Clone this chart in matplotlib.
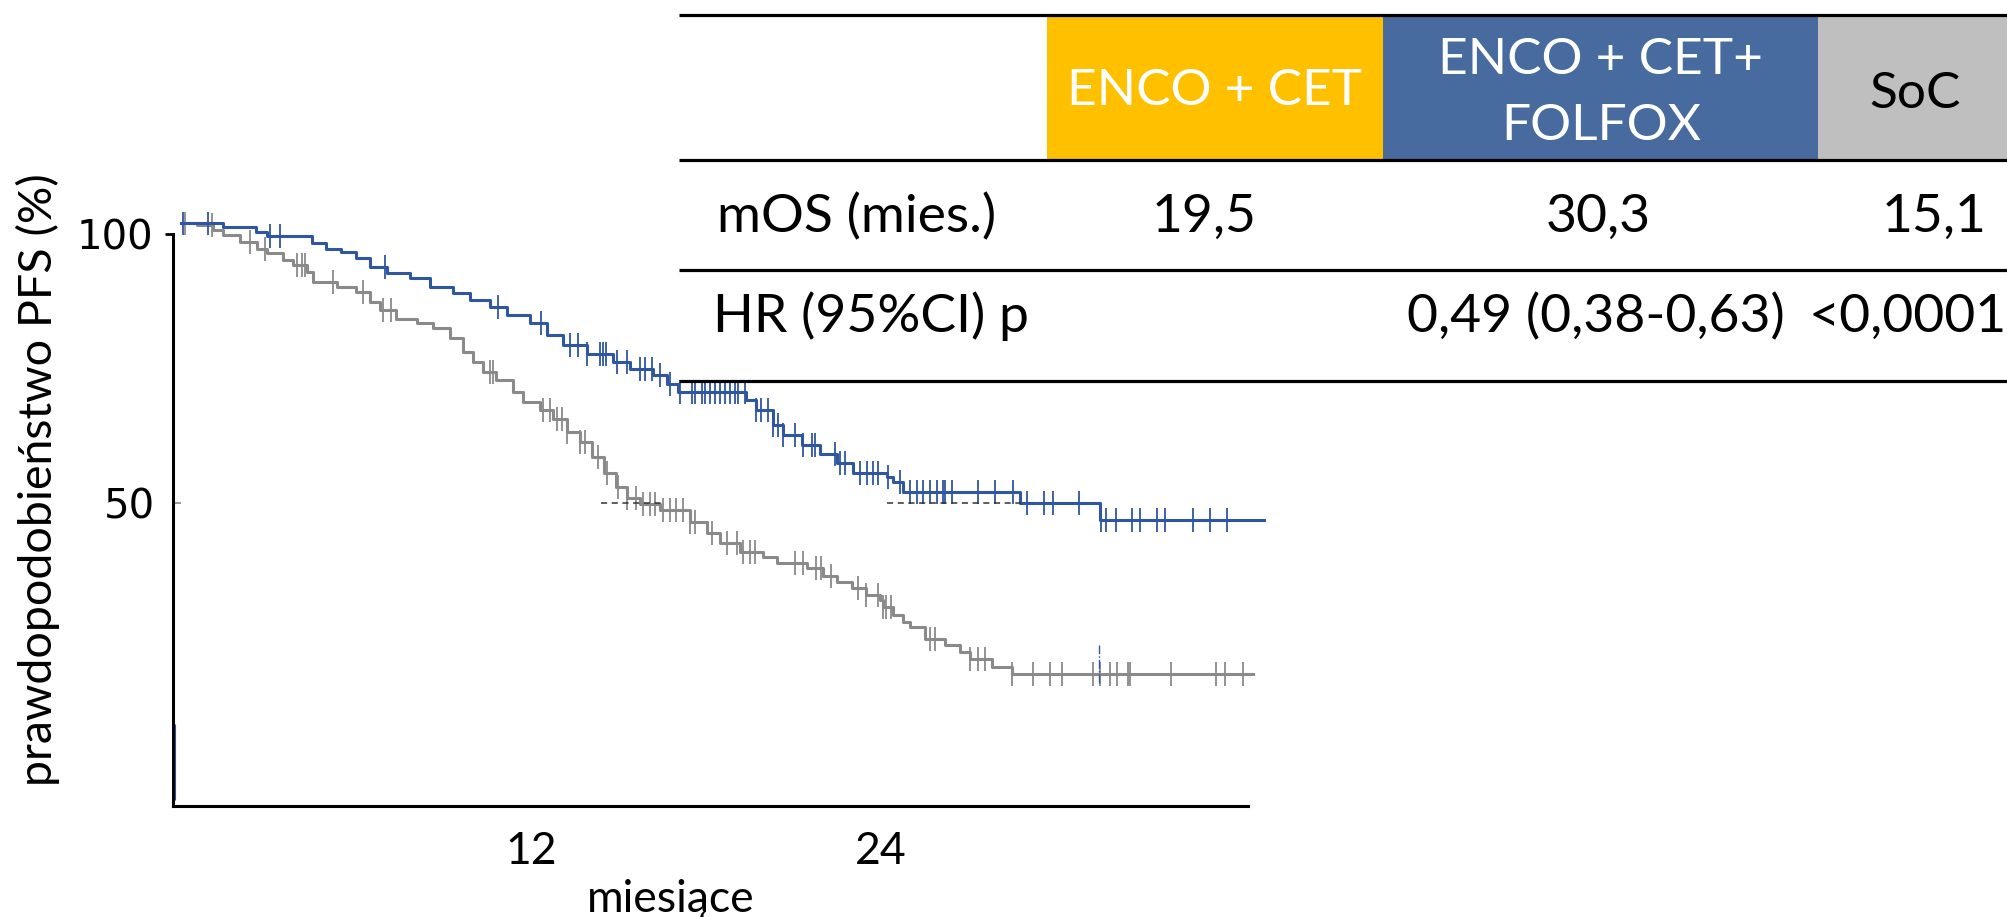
import numpy as np
import matplotlib.pyplot as plt
from matplotlib.patches import Rectangle

# Kaplan-Meier steps (months, %)
blue_t = [0, 1.44, 2.59, 2.94, 4.48, 4.99, 5.5, 6.02, 6.48, 7.05, 7.85, 8.54, 9.34,
          9.91, 10.6, 11.17, 11.97, 12.54, 13.11, 13.91, 14.83, 15.4, 16.2, 16.65,
          17.05, 19.39, 19.73, 20.3, 20.65, 21.3, 21.9, 22.5, 23.05, 24.2, 24.4,
          24.77, 28.76, 31.5]
blue_s = [102.0, 101.4, 100.4, 99.7, 98.3, 97.3, 96.7, 95.5, 93.9, 92.7, 91.8, 90.2,
          89.0, 87.7, 86.5, 84.9, 83.4, 81.2, 79.4, 77.8, 76.3, 75.0, 73.8, 72.2,
          70.7, 69.1, 67.3, 64.5, 62.6, 60.8, 59.2, 57.4, 55.5, 54.9, 54.0, 52.1,
          50.1, 46.8]
blue_end = 37.2
blue_cens = [0.08, 0.94, 3.05, 3.39, 6.99, 10.88, 12.36, 13.34, 13.62, 13.91, 14.36,
             14.48, 14.59, 14.94, 15.28, 15.74, 15.91, 16.14, 16.42, 16.76, 17.11,
             17.51, 17.62, 17.85, 17.97, 18.14, 18.31, 18.48, 18.66, 18.83, 19.0,
             19.11, 19.34, 19.73, 19.9, 20.13, 20.31, 20.48, 20.65, 21.05, 21.34,
             21.62, 21.74, 22.43, 22.6, 22.77, 23.28, 23.51, 23.74, 23.91, 24.25,
             24.65, 25.0, 25.22, 25.45, 25.68, 25.91, 26.13, 26.19, 26.42, 27.33,
             27.9, 28.53, 29.0, 29.6, 29.9, 30.8, 31.56, 31.73, 32.07, 32.59, 32.87,
             33.45, 33.73, 34.7, 35.28, 35.85]

gray_t = [0, 0.54, 1.11, 1.45, 2.02, 2.6, 2.94, 3.51, 3.85, 4.31, 4.54, 5.34, 6.02,
          6.48, 6.82, 7.39, 8.08, 8.65, 9.22, 9.68, 10.02, 10.36, 10.82, 11.39, 11.74,
          12.31, 12.76, 13.22, 13.68, 14.1, 14.5, 14.9, 15.3, 15.74, 16.42, 17.45,
          18.02, 18.48, 19.16, 19.96, 20.42, 21.45, 22.0, 22.5, 23.0, 23.5, 23.96,
          24.08, 24.42, 24.76, 24.99, 25.5, 26.2, 26.7, 27.05, 27.8, 28.48]
gray_s = [102.0, 101.7, 100.7, 99.8, 98.6, 97.3, 96.4, 95.2, 94.2, 93.0, 91.1, 90.2,
          89.3, 87.4, 85.9, 84.3, 83.4, 82.5, 80.6, 78.1, 76.3, 74.4, 72.9, 70.7,
          68.8, 67.3, 65.7, 63.3, 61.4, 58.5, 55.5, 53.0, 51.0, 49.9, 48.7, 46.5,
          44.4, 42.5, 40.9, 40.0, 38.8, 37.9, 36.5, 35.3, 34.3, 33.0, 32.0, 30.7,
          29.2, 27.9, 27.0, 24.7, 23.6, 22.4, 21.1, 19.6, 18.2]
gray_end = 36.76
gray_cens = [0.14, 1.05, 2.37, 2.88, 3.97, 4.14, 4.25, 5.22, 6.25, 6.94, 7.22, 10.59,
             10.71, 12.42, 12.65, 12.88, 13.05, 13.22, 13.68, 13.85, 14.3, 14.6, 15.0,
             15.3, 15.6, 15.85, 16.08, 16.25, 16.54, 16.76, 16.99, 17.22, 17.45,
             17.62, 18.2, 18.71, 19.05, 19.28, 19.51, 19.68, 21.05, 21.34, 21.79,
             21.96, 22.3, 23.2, 23.5, 23.9, 24.08, 24.19, 24.36, 25.68, 25.85, 27.05,
             27.33, 27.56, 28.48, 29.22, 29.79, 30.22, 31.28, 31.5, 31.85, 32.08,
             32.48, 32.54, 33.96, 35.5, 35.79, 36.42]

# median guide lines and small marks seen in the source plot
median_gray = [14.4, 16.6]
median_blue = [24.2, 28.8]
median_level = 50
blue_vmark_t = 31.47
blue_vmark_s = [16.5, 23.6]
edge_mark_t = -0.2
edge_mark_s = [-5.2, 8.9]

x_ticks = [12, 24]
y_major = [100]
y_minor = [50]

# table
table_cols = ['ENCO + CET', 'ENCO + CET+', 'SoC']
row_labels = ['mOS (mies.)', 'HR (95%CI) p']
mos_values = ['19,5', '30,3', '15,1']
hr_text = '0,49 (0,38-0,63)'
p_text = '<0,0001'

BLUE = '#2f56a3'
GRAY = '#8a8a8a'


def censor_y(times, vals, cens):
    idx = np.searchsorted(times, cens, side='right') - 1
    return np.asarray(vals)[idx]


fig = plt.figure(figsize=(20.08, 9.17), dpi=100)
W, H = 2008, 917
ax = fig.add_axes([173 / W, 1 - 806 / H, (1266 - 173) / W, (806 - 212) / H])

ax.step(gray_t + [gray_end], gray_s + [gray_s[-1]], where='post', color=GRAY, lw=2.2)
ax.plot(gray_cens, censor_y(gray_t, gray_s, gray_cens), ls='none', marker='|',
        ms=17, mew=1.3, color=GRAY)
ax.step(blue_t + [blue_end], blue_s + [blue_s[-1]], where='post', color=BLUE, lw=2.2)
ax.plot(blue_cens, censor_y(blue_t, blue_s, blue_cens), ls='none', marker='|',
        ms=17, mew=1.3, color=BLUE)

ax.hlines(median_level, *median_gray, color='#333333', lw=1.1, linestyles=(0, (4, 3)))
ax.hlines(median_level, *median_blue, color='#333333', lw=1.1, linestyles=(0, (4, 3)))
ax.vlines(blue_vmark_t, *blue_vmark_s, color=BLUE, lw=1.0, linestyles='dashdot')
ax.vlines(edge_mark_t, *edge_mark_s, color=BLUE, lw=0.8)

ax.set_xlim(-0.27, 37.2)
ax.set_ylim(-6.3, 104.1)
for s in ['top', 'right']:
    ax.spines[s].set_visible(False)
ax.spines['left'].set_bounds(-6.3, 100)
ax.spines['bottom'].set_bounds(-0.27, 36.6)
ax.spines['left'].set_linewidth(2.2)
ax.spines['bottom'].set_linewidth(2.2)

ax.set_xticks(x_ticks, labels=[str(v) for v in x_ticks])
ax.tick_params(axis='x', length=0, pad=18, labelsize=32)
for lab in ax.get_xticklabels():
    lab.set_family('Lato')

ax.set_yticks(y_major, labels=[str(v) for v in y_major])
ax.set_yticks(y_minor, labels=[str(v) for v in y_minor], minor=True)
ax.tick_params(axis='y', which='major', direction='out', length=6, width=2,
               pad=8, labelsize=29)
ax.tick_params(axis='y', which='minor', direction='in', length=6, width=1.2,
               color=GRAY, pad=13, labelsize=29)

ax.set_xlabel('miesiące', family='Lato', fontsize=32)
ax.xaxis.set_label_coords(0.455, -0.158)
ax.xaxis.label.set_va('center')
ax.set_ylabel('prawdopodobieństwo PFS (%)', family='Lato', fontsize=33.5)
ax.yaxis.set_label_coords(-0.1235, 0.549)
ax.yaxis.label.set_va('center')

# table drawn in pixel coordinates on an overlay
tb = fig.add_axes([0, 0, 1, 1])
tb.set_xlim(0, W)
tb.set_ylim(H, 0)
tb.axis('off')
tb.patch.set_visible(False)

tb.add_patch(Rectangle((1047, 15), 336, 145, color='#ffc000', lw=0))
tb.add_patch(Rectangle((1383, 15), 435, 145, color='#476a9f', lw=0))
tb.add_patch(Rectangle((1818, 15), 190, 145, color='#bfbfbf', lw=0))
for yy in [15, 160, 270, 381]:
    tb.plot([679, W], [yy, yy], color='black', lw=2.3, solid_capstyle='butt')

tf = dict(family='Lato', fontsize=37)
tr = dict(family='Lato', fontsize=38.5)
tb.text(1215, 105, table_cols[0], color='white', ha='center', va='baseline', **tf)
tb.text(1601, 74, table_cols[1], color='white', ha='center', va='baseline', **tf)
tb.text(1601, 140, 'FOLFOX', color='white', ha='center', va='baseline', **tf)
tb.text(1915, 108, table_cols[2], color='black', ha='center', va='baseline', **tf)

tb.text(717, 232, row_labels[0], ha='left', va='baseline', **tr)
for xc, v in zip([1204, 1598, 1934], mos_values):
    tb.text(xc, 232, v, ha='center', va='baseline', **tr)
tb.text(713, 332, row_labels[1], ha='left', va='baseline', **tr)
tb.text(1596, 332, hr_text, ha='center', va='baseline', **tr)
tb.text(1908, 332, p_text, ha='center', va='baseline', **tr)

fig.savefig('out.png', dpi=100)
